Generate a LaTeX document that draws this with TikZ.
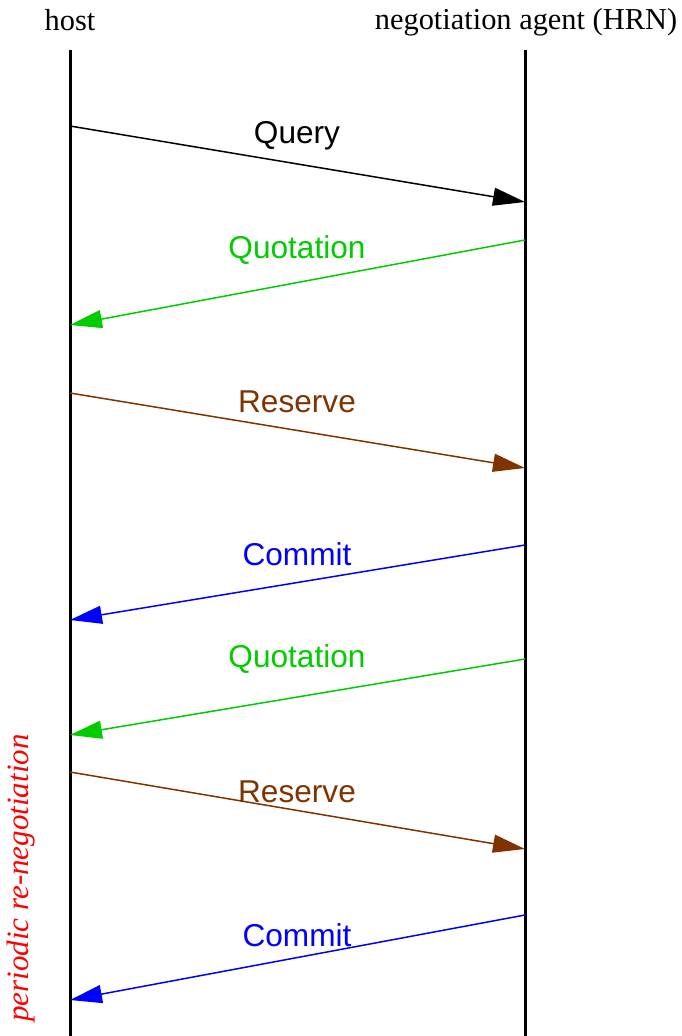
\documentclass[tikz,border=0pt]{standalone}
\usepackage{fontspec}
\setmainfont{Liberation Serif}
\setsansfont{Liberation Sans}
\usetikzlibrary{arrows.meta, positioning}
\definecolor{msggreen}{RGB}{0, 204, 0}
\definecolor{msgbrown}{RGB}{128, 51, 0}
\definecolor{msgblue}{RGB}{0, 0, 255}

\begin{document}
\begin{tikzpicture}[x=0.5pt, y=-0.5pt,
  party/.style={font=\fontsize{15.2}{18}\selectfont, inner sep=0pt},
  lifeline/.style={line width=1.5pt},
  msg/.style={line width=0.75pt, -{Triangle[length=16pt, width=9pt]}},
  msglabel/.style={font=\sffamily\fontsize{15.8}{18}\selectfont, inner sep=0pt}]
  \useasboundingbox (0,0) rectangle (681,1036);

  % parties and lifelines
  \node[party] (host) at (70,20) {host};
  \node[party] (agent) at (526,22) {negotiation agent (HRN)};
  \coordinate (hosttop) at (70,50);
  \coordinate (hostbot) at (70,1036);
  \coordinate (agenttop) at (525,50);
  \coordinate (agentbot) at (525,1036);
  \draw[lifeline] (hosttop) -- (hostbot);
  \draw[lifeline] (agenttop) -- (agentbot);

  % message end points
  \coordinate (h1) at (70,126);  \coordinate (a1) at (525,202);
  \coordinate (a2) at (525,240); \coordinate (h2) at (70,325);
  \coordinate (h3) at (70,393);  \coordinate (a3) at (525,468);
  \coordinate (a4) at (525,545); \coordinate (h4) at (70,620);
  \coordinate (a5) at (525,659); \coordinate (h5) at (70,735);
  \coordinate (h6) at (70,772);  \coordinate (a6) at (525,849);
  \coordinate (a7) at (525,915); \coordinate (h7) at (70,1000);

  % messages
  \draw[msg, black] (h1) -- (a1);
  \node[msglabel, text=black] (query) at (297,136) {Query};
  \draw[msg, msggreen] (a2) -- (h2);
  \node[msglabel, text=msggreen] (quote1) at (297,250) {Quotation};
  \draw[msg, msgbrown] (h3) -- (a3);
  \node[msglabel, text=msgbrown] (reserve1) at (297,402) {Reserve};
  \draw[msg, msgblue] (a4) -- (h4);
  \node[msglabel, text=msgblue] (commit1) at (297,554) {Commit};
  \draw[msg, msggreen] (a5) -- (h5);
  \node[msglabel, text=msggreen] (quote2) at (297,659) {Quotation};
  \draw[msg, msgbrown] (h6) -- (a6);
  \node[msglabel, text=msgbrown] (reserve2) at (297,792) {Reserve};
  \draw[msg, msgblue] (a7) -- (h7);
  \node[msglabel, text=msgblue] (commit2) at (297,935) {Commit};

  \node[party, rotate=90, text=red, font=\itshape\fontsize{15.5}{18}\selectfont] (renego) at (21,878) {periodic re-negotiation};
\end{tikzpicture}
\end{document}
